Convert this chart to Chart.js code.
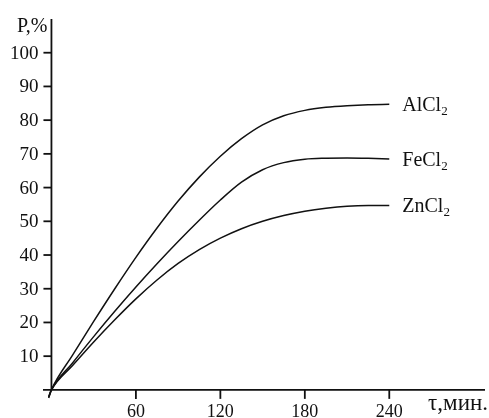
<!DOCTYPE html>
<html>
<head>
<meta charset="utf-8">
<script src="https://cdn.jsdelivr.net/npm/chart.js@4/dist/chart.umd.min.js"></script>
<style>
  body { margin: 0; background: #fff; }
  canvas { display: block; }
</style>
</head>
<body>
<canvas id="chart" width="489" height="418"></canvas>
<script>
// time, min
const times = [-2, 0, 15, 30, 45, 60, 75, 90, 105, 120, 135, 150, 165, 180, 195, 210, 225, 240]
// P, %
const alcl2 = [-2.4, 0, 10.3, 20.3, 30.0, 39.3, 48.0, 56.0, 63.1, 69.3, 74.5, 78.6, 81.3, 82.9, 83.8, 84.3, 84.6, 84.7]
const fecl2 = [-2.2, 0, 8.0, 15.8, 23.3, 30.5, 37.4, 44.0, 50.3, 56.3, 61.6, 65.3, 67.4, 68.4, 68.7, 68.8, 68.7, 68.5]
const zncl2 = [-2.0, 0, 7.2, 14.2, 20.8, 27.0, 32.6, 37.5, 41.6, 45.0, 47.8, 50.0, 51.7, 53.0, 53.9, 54.5, 54.7, 54.7]

const seriesNames = [["AlCl", "2"], ["FeCl", "2"], ["ZnCl", "2"]]
const yTicks = [10, 20, 30, 40, 50, 60, 70, 80, 90, 100]
const xTicks = [60, 120, 180, 240]
const yTitle = "P,%"
const xTitle = "τ,мин."

const FONT = '"Liberation Serif", "Times New Roman", serif'
const INK = '#111'

const toPoints = vals => vals.map((v, i) => ({ x: times[i], y: v }))

const line = vals => ({
  data: toPoints(vals),
  borderColor: INK,
  borderWidth: 1.5,
  pointRadius: 0,
  fill: false,
  cubicInterpolationMode: 'monotone'
})

// axes, ticks and labels drawn by hand, textbook style
const axesPlugin = {
  id: 'axes',
  afterDraw(chart) {
    const { ctx, chartArea } = chart
    const xs = chart.scales.x
    const ys = chart.scales.y
    const x0 = xs.getPixelForValue(0)
    const y0 = ys.getPixelForValue(0)

    ctx.save()
    ctx.strokeStyle = INK
    ctx.fillStyle = INK
    ctx.lineWidth = 1.8

    // axis lines
    ctx.beginPath()
    ctx.moveTo(x0, chartArea.top)
    ctx.lineTo(x0, y0)
    ctx.moveTo(chartArea.left, y0)
    ctx.lineTo(chartArea.right, y0)
    ctx.stroke()

    // y ticks
    ctx.font = '19px ' + FONT
    ctx.textAlign = 'right'
    ctx.textBaseline = 'middle'
    yTicks.forEach(v => {
      const py = ys.getPixelForValue(v)
      ctx.beginPath()
      ctx.moveTo(x0 - 8, py)
      ctx.lineTo(x0, py)
      ctx.stroke()
      ctx.fillText(String(v), x0 - 13, py + 1)
    })

    // x ticks
    ctx.font = '18px ' + FONT
    ctx.textAlign = 'center'
    ctx.textBaseline = 'alphabetic'
    xTicks.forEach(v => {
      const px = xs.getPixelForValue(v)
      ctx.beginPath()
      ctx.moveTo(px, y0)
      ctx.lineTo(px, y0 + 9)
      ctx.stroke()
      ctx.fillText(String(v), px, y0 + 27)
    })

    // axis titles
    ctx.textAlign = 'right'
    ctx.font = '20px ' + FONT
    ctx.fillText(yTitle, x0 - 4, chartArea.top + 13)
    ctx.font = '23px ' + FONT
    ctx.fillText(xTitle, 488, y0 + 20)

    // series labels at the end of each curve
    chart.data.datasets.forEach((ds, i) => {
      const last = ds.data[ds.data.length - 1]
      const px = xs.getPixelForValue(last.x) + 13
      const py = ys.getPixelForValue(last.y) + 7
      const [base, sub] = seriesNames[i]
      ctx.textAlign = 'left'
      ctx.font = '20px ' + FONT
      ctx.fillText(base, px, py)
      const w = ctx.measureText(base).width
      ctx.font = '13px ' + FONT
      ctx.fillText(sub, px + w, py + 4)
    })
    ctx.restore()
  }
}

new Chart(document.getElementById('chart'), {
  type: 'line',
  data: {
    datasets: [line(alcl2), line(fecl2), line(zncl2)]
  },
  options: {
    responsive: false,
    animation: false,
    layout: { padding: { left: 43, right: 4, top: 19, bottom: 18 } },
    plugins: {
      legend: { display: false },
      tooltip: { enabled: false }
    },
    scales: {
      x: { type: 'linear', min: -6, max: 308, display: false },
      y: { min: -3, max: 110, display: false }
    }
  },
  plugins: [axesPlugin]
})
</script>
</body>
</html>
